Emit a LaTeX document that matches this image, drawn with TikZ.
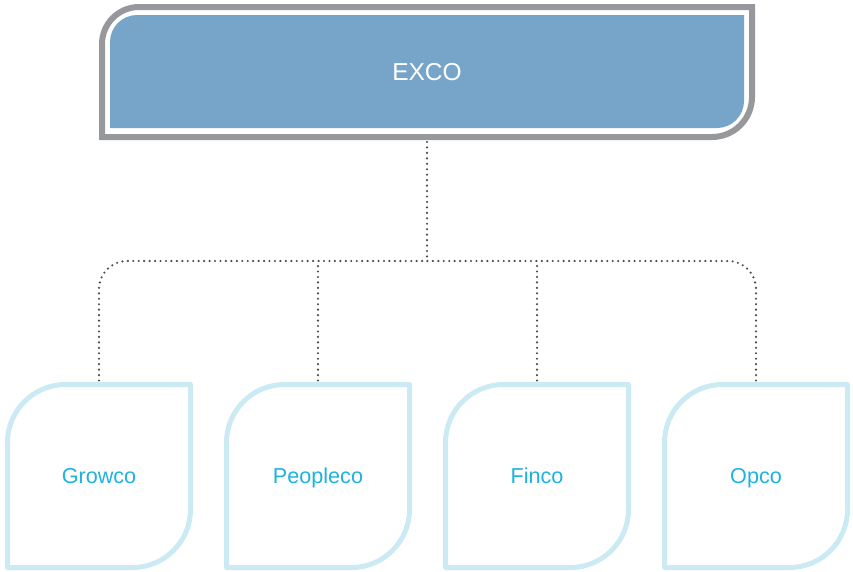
\documentclass[tikz,border=0pt]{standalone}
\usepackage{fontspec}
\setmainfont{Liberation Sans}
\definecolor{excoblue}{HTML}{77A5C9}
\definecolor{framegray}{HTML}{97989B}
\definecolor{leafline}{HTML}{CBEAF4}
\definecolor{leaftext}{HTML}{1FB2DF}
\definecolor{dotgray}{HTML}{4A4A4A}
\tikzset{
  topbox/.style={minimum width=650pt, minimum height=130pt, inner sep=0pt, outer sep=0pt,
    text=white, font=\fontsize{24.5}{28}\selectfont, text height=17.2pt, text depth=0pt},
  leaf/.style={minimum width=183pt, minimum height=183pt, inner sep=0pt, outer sep=0pt,
    text=leaftext, font=\fontsize{21.6}{25}\selectfont, text height=15.5pt, text depth=0pt},
  leafborder/.style={draw=leafline, line width=5pt, line join=round},
  dotline/.style={draw=dotgray, line width=2.4pt, line cap=round, dash pattern=on 0pt off 5.45pt}
}
\begin{document}
\begin{tikzpicture}[x=1pt,y=-1pt]
\useasboundingbox (0,0) rectangle (853,571);
% EXCO frame
\draw[framegray, line width=6pt] (102,137) -- (102,44) .. controls (102,23.6) and (118.6,7) .. (139,7)
  -- (752,7) -- (752,97) .. controls (752,119.1) and (734.1,137) .. (712,137) -- cycle;
\fill[excoblue] (110,128) -- (110,42) .. controls (110,27.1) and (122.1,15) .. (137,15)
  -- (744,15) -- (744,101) .. controls (744,115.9) and (731.9,128) .. (717,128) -- cycle;
\node[topbox] (exco) at (427,72) {EXCO};
% leaves
\foreach \cx/\nm/\txt in {99/growco/Growco, 318/peopleco/Peopleco, 537/finco/Finco, 756/opco/Opco} {
  \draw[leafborder] (\cx-91.5,567.5) -- (\cx-91.5,442.5)
    .. controls (\cx-91.5,410.5) and (\cx-65.5,384.5) .. (\cx-33.5,384.5)
    -- (\cx+91.5,384.5) -- (\cx+91.5,509.5)
    .. controls (\cx+91.5,541.5) and (\cx+65.5,567.5) .. (\cx+33.5,567.5) -- cycle;
  \node[leaf] (\nm) at (\cx,476) {\txt};
}
% connectors
\coordinate (hub) at (427,261);
\draw[dotline, shorten <=5pt] (exco.south) -- (hub);
\draw[dotline, shorten <=4pt, rounded corners=28pt] (growco.north) |- (hub);
\draw[dotline, shorten <=4pt, rounded corners=28pt] (opco.north) |- (hub);
\draw[dotline, shorten <=4pt] (peopleco.north) -- (peopleco.north |- hub);
\draw[dotline, shorten <=4pt] (finco.north) -- (finco.north |- hub);
\end{tikzpicture}
\end{document}
